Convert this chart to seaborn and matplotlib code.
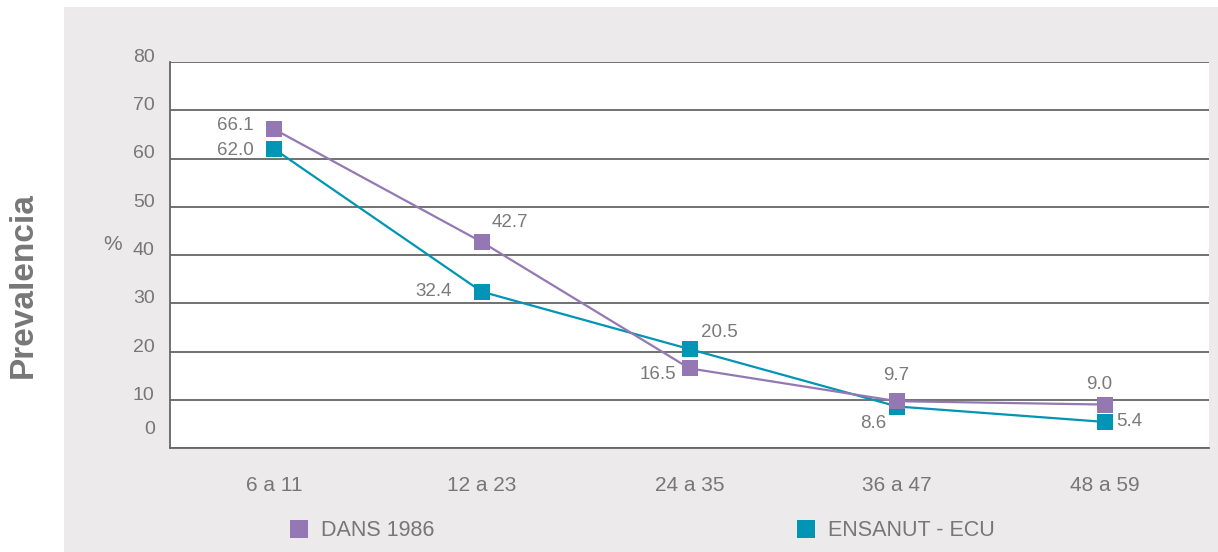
import matplotlib
matplotlib.use("Agg")
import matplotlib.pyplot as plt
from matplotlib.patches import Rectangle
from matplotlib.lines import Line2D
from matplotlib.transforms import ScaledTranslation
import seaborn as sns
import pandas as pd

# ---- data ----
categories = ["6 a 11", "12 a 23", "24 a 35", "36 a 47", "48 a 59"]
dans_1986 = [66.1, 42.7, 16.5, 9.7, 9.0]
ensanut_ecu = [62.0, 32.4, 20.5, 8.6, 5.4]
series_names = ["DANS 1986", "ENSANUT - ECU"]
y_ticks = [0, 10, 20, 30, 40, 50, 60, 70, 80]

PURPLE = "#9478B4"
TEAL = "#0095B4"
TXT = "#777777"

sns.set_theme(style="white")
plt.rcParams["font.family"] = ["Liberation Sans", "DejaVu Sans"]

W, H = 1218, 552
fig = plt.figure(figsize=(W / 100, H / 100), dpi=100)
fig.patch.set_facecolor("white")
fig.add_artist(Rectangle((64 / W, 0), 1 - 64 / W, 1 - 7 / H, transform=fig.transFigure,
                         facecolor="#ECEAEB", edgecolor="none", zorder=-5))

ax = fig.add_axes([170 / W, 1 - 448 / H, 1039 / W, 386 / H])
ax.set_facecolor("white")

df = pd.DataFrame({
    "grupo": categories * 2,
    "serie": [series_names[1]] * len(categories) + [series_names[0]] * len(categories),
    "valor": ensanut_ecu + dans_1986,
})

sns.lineplot(data=df, x="grupo", y="valor", hue="serie",
             hue_order=[series_names[1], series_names[0]],
             palette={series_names[0]: PURPLE, series_names[1]: TEAL},
             marker="s", markersize=11, markeredgewidth=0, linewidth=1.6,
             sort=False, legend=False, ax=ax, zorder=3)

ax.set_xlim(-0.5, len(categories) - 0.5)
ax.set_ylim(0, 80)
ax.set_yticks(y_ticks)
ax.set_yticklabels([str(t) for t in y_ticks])
ax.set_xticks(range(len(categories)))
ax.set_xticklabels(categories)
ax.set_xticks([i + 0.5 for i in range(len(categories))], minor=True)
ax.set_xlabel("")
ax.set_ylabel("")

ax.tick_params(axis="x", which="major", length=0, pad=20, labelsize=15, labelcolor=TXT)
ax.tick_params(axis="x", which="minor", direction="in", length=6, width=1.2, color="#666666")
ax.tick_params(axis="y", length=0, pad=11, labelsize=14, labelcolor=TXT)

ax.set_axisbelow(True)
ax.yaxis.grid(True, color="#666666", linewidth=1.3)
ax.xaxis.grid(False)
for s in ["top", "right"]:
    ax.spines[s].set_visible(False)
for s in ["left", "bottom"]:
    ax.spines[s].set_color("#666666")
    ax.spines[s].set_linewidth(1.3)

# slight upward shift of y tick labels, as in the original layout
for lbl, v in zip(ax.get_yticklabels(), y_ticks):
    dy = 20.5 if v == 0 else 6.5
    lbl.set_transform(lbl.get_transform() + ScaledTranslation(0, dy / 100, fig.dpi_scale_trans))

# data labels
dans_off = [(-20, 4, "right"), (10, 19, "left"), (-13, -6.5, "right"), (-1, 26, "center"), (-6, 20, "center")]
ens_off = [(-20, -1.5, "right"), (-30, 0, "right"), (12, 17, "left"), (-11, -17, "right"), (11, 0, "left")]
for vals, offs in [(dans_1986, dans_off), (ensanut_ecu, ens_off)]:
    for i, (v, (dx, dy, ha)) in enumerate(zip(vals, offs)):
        ax.annotate(f"{v:.1f}", xy=(i, v), xytext=(dx, dy), textcoords="offset pixels",
                    ha=ha, va="center", fontsize=13.5, color="#7a7a7a", zorder=5)

fig.text(23 / W, 1 - 285 / H, "Prevalencia", rotation=90, ha="center", va="center",
         fontsize=24, fontweight="bold", color=TXT)
fig.text(113 / W, 1 - 245 / H, "%", ha="center", va="center", fontsize=15, color=TXT)

# legend (two separate entries)
fs = 15.5
for name, col, cx in [(series_names[0], PURPLE, 299), (series_names[1], TEAL, 806)]:
    h = Line2D([], [], marker="s", linestyle="none", color=col, markersize=13, markeredgewidth=0)
    x0 = (cx - fs * 100 / 72 / 2) / W
    fig.legend(handles=[h], labels=[name], loc="center left", bbox_to_anchor=(x0, 1 - 531 / H),
               frameon=False, fontsize=fs, handlelength=1, handletextpad=0.5,
               borderpad=0, borderaxespad=0, labelcolor=TXT)

fig.savefig("out.png", dpi=100)
